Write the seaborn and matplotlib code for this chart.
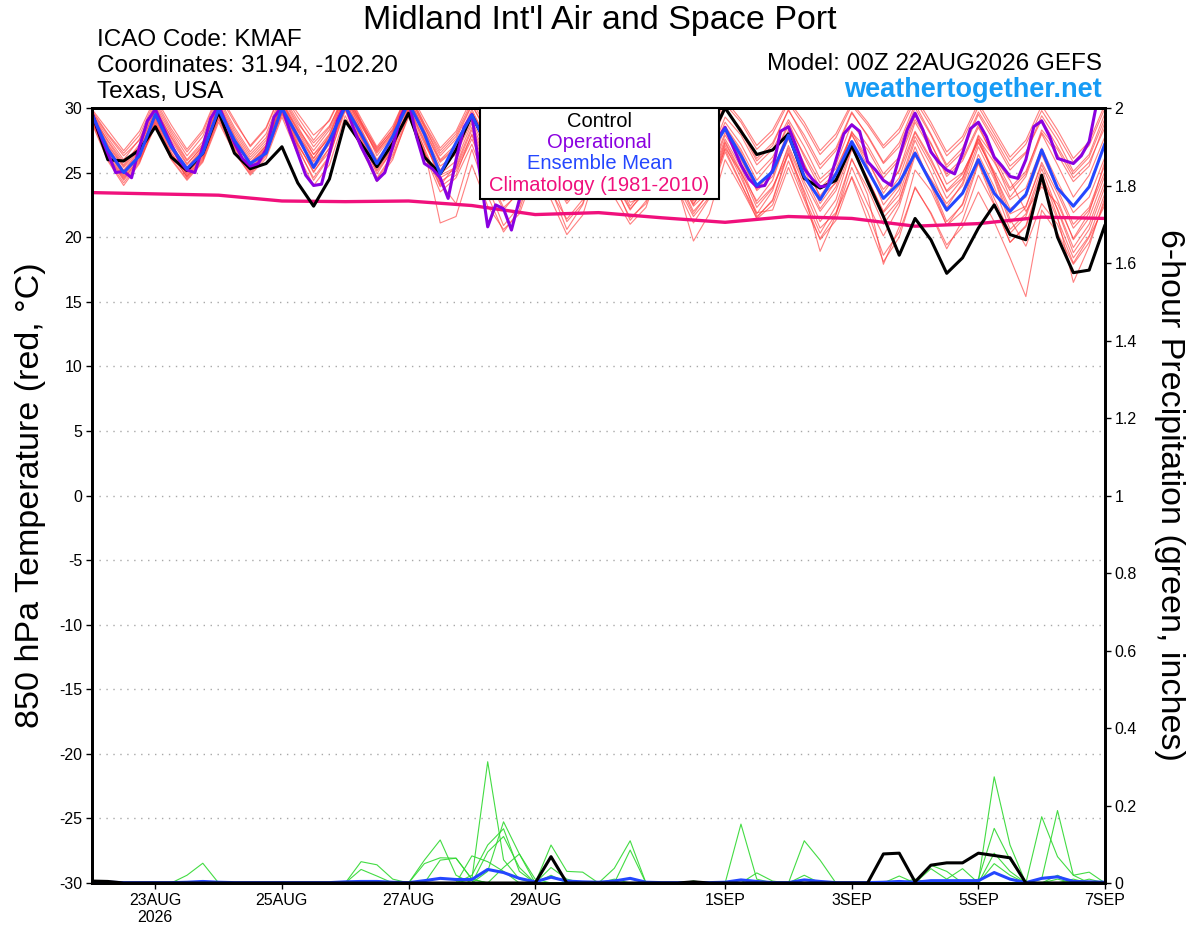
import numpy as np
import pandas as pd
import matplotlib
matplotlib.use("Agg")
import matplotlib.pyplot as plt
import seaborn as sns
from matplotlib.patches import Rectangle

# ---------------- DATA ----------------
# 6-hourly forecast steps starting 00Z 22AUG2026 (day 0) through 00Z 7SEP2026 (day 16)
step_days = np.arange(65) * 0.25
oper_days = np.arange(129) * 0.125   # operational run is 3-hourly
clim_days = np.arange(17) * 1.0

tick_days = [1, 3, 5, 7, 10, 12, 14, 16]
tick_labels = ["23AUG\n2026", "25AUG", "27AUG", "29AUG", "1SEP", "3SEP", "5SEP", "7SEP"]
temp_ticks = [30, 25, 20, 15, 10, 5, 0, -5, -10, -15, -20, -25, -30]
temp_tick_labels = ["30", "25", "20", "15", "10", "5", "0", "-5", "-10", "-15", "-20", "-25", "-30"]
precip_ticks = [0, 0.2, 0.4, 0.6, 0.8, 1.0, 1.2, 1.4, 1.6, 1.8, 2.0]
precip_tick_labels = ["0", "0.2", "0.4", "0.6", "0.8", "1", "1.2", "1.4", "1.6", "1.8", "2"]

control_t = [29.6,
    26.0, 25.9, 26.75, 28.55, 26.2, 25.15, 26.5, 29.7, 26.5, 25.3, 25.7, 27.0,
    24.2, 22.4, 24.5, 29.0, 27.25, 25.45, 27.25, 29.6, 26.2, 24.9, 26.75, 29.45,
    27.0, 25.5, 26.5, 28.5, 27.0, 25.0, 26.0, 28.5, 27.0, 25.0, 26.5, 28.5,
    27.0, 25.5, 27.5, 30.0, 28.2, 26.4, 26.75, 28.0, 24.55, 23.8, 24.4, 27.1,
    24.3, 21.6, 18.6, 21.45, 19.8, 17.2, 18.4, 20.7, 22.5, 20.2, 19.8, 24.8,
    20.0, 17.25, 17.45, 20.95]

mean_t = [29.5,
    26.8, 25.0, 26.3, 29.5, 27.0, 25.3, 26.5, 29.9, 27.5, 25.7, 26.5, 30.0,
    27.8, 25.4, 27.5, 30.1, 28.0, 25.7, 27.8, 30.4, 28.0, 24.9, 27.3, 29.45,
    27.0, 25.0, 26.0, 28.0, 26.5, 24.5, 25.5, 27.8, 26.3, 24.5, 25.5, 27.5,
    26.0, 24.8, 26.5, 28.4, 26.3, 24.0, 25.07, 27.9, 24.7, 22.9, 24.9, 27.4,
    25.2, 23.0, 24.2, 26.5, 24.2, 22.1, 23.4, 26.0, 23.4, 22.0, 23.3, 26.75,
    23.8, 22.4, 23.9, 27.25]

oper_t = [29.6,
    28.0, 26.5, 25.0, 25.1, 24.6, 27.0, 29.0, 29.9,
    28.5, 27.2, 26.0, 25.2, 25.0, 27.0, 29.2, 30.2,
    28.7, 27.3, 26.1, 25.5, 25.7, 26.8, 29.3, 30.1,
    28.2, 26.5, 24.8, 24.0, 24.1, 26.5, 29.0, 30.3,
    28.5, 27.0, 25.8, 24.4, 25.0, 27.0, 29.3, 30.6,
    27.8, 25.7, 25.3, 24.6, 23.0, 26.0, 28.5, 29.5,
    25.0, 20.8, 22.5, 22.2, 20.55, 22.9, 25.5, 27.5,
    27.0, 25.8, 25.0, 24.5, 25.0, 26.5, 28.0, 28.5,
    27.5, 26.0, 25.0, 24.5, 24.8, 26.0, 27.5, 28.5,
    27.5, 26.0, 25.0, 24.7, 25.0, 26.5, 27.6, 28.5,
    27.0, 25.6, 24.5, 23.9, 24.0, 25.2, 28.2, 28.55,
    27.0, 25.3, 24.5, 23.9, 24.0, 26.0, 28.0, 28.7,
    28.2, 25.85, 25.2, 24.4, 24.0, 26.2, 28.3, 29.6,
    28.3, 26.6, 25.8, 25.2, 24.9, 26.5, 28.4, 28.9,
    27.8, 26.2, 25.5, 24.7, 24.55, 26.0, 28.55, 29.0,
    27.8, 26.1, 25.9, 25.7, 26.3, 27.4, 30.5, 31.5]

clim_t = [23.45, 23.35, 23.25, 22.8, 22.75, 22.8, 22.45, 21.75, 21.9,
          21.5, 21.15, 21.6, 21.45, 20.85, 21.05, 21.55, 21.45]

m01 = [29.3, 27.5, 25.8, 27.0, 29.8, 27.8, 25.9, 27.2, 30.4, 28.1, 26.2, 27.5, 30.8, 28.6, 26.4, 28.0, 31.2,
       28.9, 26.3, 27.9, 30.9, 28.2, 25.8, 26.9, 29.6, 27.2, 24.8, 25.7, 28.4, 26.8, 24.3, 25.2, 27.9,
       26.1, 23.9, 25.0, 27.6, 26.3, 24.8, 26.2, 29.3, 27.9, 25.6, 26.8, 29.1, 27.0, 24.5, 25.6, 28.8,
       27.1, 24.9, 26.2, 29.4, 27.3, 24.7, 25.9, 28.5, 26.2, 23.8, 25.1, 28.1, 26.4, 24.3, 25.5, 28.9]
m02 = [29.0, 26.3, 24.5, 26.1, 29.1, 26.9, 24.8, 26.4, 29.7, 27.2, 25.1, 26.6, 30.1, 27.3, 25.0, 26.9, 30.3,
       27.6, 24.9, 26.8, 29.8, 26.4, 23.5, 24.6, 27.2, 23.9, 20.9, 22.4, 26.5, 24.8, 22.6, 24.1, 27.2,
       25.6, 23.4, 24.8, 27.5, 25.5, 22.6, 24.0, 27.4, 25.1, 22.3, 23.8, 26.9, 24.0, 21.2, 22.9, 26.8,
       24.5, 22.0, 23.7, 27.5, 25.0, 22.3, 24.2, 27.8, 24.9, 21.8, 22.4, 25.6, 22.9, 19.8, 21.5, 24.8]
m03 = [29.8, 28.0, 26.5, 27.9, 30.6, 28.4, 26.6, 28.1, 31.0, 28.9, 27.1, 28.5, 31.4, 29.6, 27.9, 29.0, 31.5,
       29.2, 27.0, 28.6, 31.3, 28.8, 26.7, 28.0, 30.5, 28.4, 26.2, 27.5, 30.0, 28.1, 25.9, 27.2, 29.8,
       27.9, 25.7, 27.0, 29.6, 27.8, 25.9, 27.6, 30.3, 28.9, 26.8, 28.0, 30.4, 28.6, 26.4, 27.7, 30.2,
       28.7, 26.9, 28.1, 30.6, 28.6, 26.3, 27.5, 30.1, 28.0, 25.9, 27.2, 29.8, 27.9, 25.8, 27.1, 30.0]
m04 = [29.5, 26.8, 24.9, 26.4, 29.2, 26.6, 24.6, 26.0, 29.4, 27.0, 25.3, 26.7, 29.9, 27.6, 25.8, 27.4, 30.6,
       28.1, 25.5, 27.3, 30.2, 27.5, 24.6, 25.3, 27.9, 24.6, 22.1, 23.6, 27.0, 25.4, 23.3, 23.9, 26.4,
       24.2, 21.3, 22.8, 26.2, 24.7, 22.5, 24.9, 28.1, 26.2, 23.6, 24.7, 27.8, 25.2, 22.6, 24.3, 28.2,
       26.0, 23.4, 25.2, 28.9, 26.8, 24.1, 25.0, 27.4, 24.9, 22.2, 23.1, 26.4, 23.7, 21.0, 22.3, 25.6]
m05 = [29.4, 27.1, 25.4, 26.8, 29.6, 27.3, 25.1, 26.5, 29.8, 27.6, 25.5, 26.9, 30.4, 28.0, 25.9, 27.5, 30.8,
       28.3, 25.8, 27.4, 30.5, 27.9, 25.2, 26.6, 29.3, 26.9, 24.6, 25.8, 28.7, 26.2, 23.6, 24.7, 27.4,
       25.3, 23.1, 24.5, 27.1, 24.9, 22.4, 23.6, 26.8, 24.2, 21.4, 22.5, 25.9, 22.9, 19.8, 21.3, 24.7,
       22.0, 18.6, 20.4, 23.8, 21.9, 19.4, 20.8, 23.5, 21.2, 18.4, 15.4, 22.1, 20.3, 17.9, 19.6, 22.8]
m06 = [28.9, 26.0, 24.2, 25.8, 28.6, 26.1, 24.5, 25.9, 29.1, 26.6, 24.8, 26.1, 29.3, 26.4, 24.0, 25.6, 29.4,
       26.9, 24.3, 26.0, 29.5, 26.6, 23.9, 24.8, 28.0, 25.3, 22.8, 23.7, 27.6, 24.4, 21.2, 22.6, 26.9,
       24.9, 22.7, 23.2, 26.5, 23.9, 19.7, 21.8, 26.0, 23.8, 21.5, 22.9, 26.7, 23.4, 18.9, 21.7, 25.4,
       22.6, 20.1, 22.4, 26.3, 24.5, 22.6, 24.0, 27.3, 25.1, 22.9, 23.8, 26.9, 24.3, 21.9, 23.1, 26.2]
m07 = [29.7, 27.9, 26.3, 27.5, 30.2, 28.0, 26.0, 27.4, 30.6, 28.3, 26.4, 27.7, 30.9, 28.8, 27.3, 28.6, 31.0,
       28.6, 26.6, 28.2, 31.1, 28.5, 26.3, 27.6, 30.2, 28.0, 25.7, 26.8, 29.5, 27.6, 25.4, 26.7, 29.3,
       27.4, 25.3, 26.6, 29.1, 27.2, 25.0, 26.9, 29.9, 28.4, 26.1, 27.3, 29.8, 27.9, 25.6, 26.9, 29.7,
       27.8, 25.7, 27.0, 30.0, 27.9, 25.4, 26.6, 29.5, 27.4, 25.2, 26.5, 29.4, 27.5, 25.1, 26.4, 29.6]
m08 = [29.2, 26.6, 24.7, 26.2, 29.0, 26.5, 24.9, 26.3, 29.6, 27.4, 25.6, 27.0, 30.3, 27.9, 26.1, 27.8, 30.9,
       28.4, 26.0, 27.6, 30.6, 27.7, 24.2, 22.6, 26.8, 23.2, 20.4, 22.1, 25.9, 23.7, 20.6, 22.5, 26.1,
       24.3, 22.1, 23.8, 26.8, 24.6, 22.0, 23.4, 27.1, 24.6, 21.9, 22.1, 25.4, 22.4, 19.9, 21.8, 26.1,
       23.3, 17.9, 20.8, 25.2, 23.6, 20.9, 22.6, 26.4, 23.9, 20.6, 21.8, 25.3, 22.1, 18.8, 20.6, 23.9]
m09 = [29.6, 27.4, 25.6, 27.2, 30.1, 27.7, 25.7, 27.0, 30.3, 27.8, 25.8, 27.1, 30.5, 28.2, 26.1, 27.9, 30.9,
       28.7, 26.5, 28.0, 31.0, 28.6, 26.0, 27.2, 29.9, 27.4, 25.1, 26.3, 29.0, 27.0, 24.8, 26.0, 28.6,
       26.6, 24.4, 25.6, 28.3, 26.5, 24.3, 26.0, 28.9, 27.2, 24.9, 26.2, 28.6, 26.4, 24.2, 25.3, 27.9,
       25.9, 23.7, 25.1, 28.2, 26.1, 23.5, 24.6, 27.6, 25.8, 23.6, 24.9, 28.3, 26.8, 24.6, 25.8, 28.5]
m10 = [29.1, 26.2, 24.4, 25.9, 28.8, 26.3, 24.7, 26.2, 29.2, 26.8, 25.0, 26.4, 29.6, 27.1, 25.3, 26.9, 29.9,
       27.3, 24.6, 26.4, 29.6, 26.9, 24.0, 25.6, 28.5, 25.8, 23.2, 24.5, 27.8, 25.6, 23.1, 24.3, 27.6,
       25.4, 23.0, 24.2, 27.3, 25.1, 23.2, 24.6, 27.9, 26.0, 23.7, 25.1, 28.3, 25.7, 23.1, 24.2, 27.3,
       24.4, 21.5, 22.9, 26.6, 24.2, 21.2, 22.5, 25.8, 23.0, 20.3, 21.6, 24.9, 21.6, 16.5, 19.3, 23.1]
m11 = [29.9, 28.3, 26.7, 28.2, 30.8, 28.7, 26.8, 28.3, 31.2, 29.1, 27.0, 28.4, 31.3, 29.3, 27.5, 29.1, 31.6,
       29.0, 26.8, 28.4, 31.4, 29.1, 26.9, 28.2, 30.8, 28.7, 26.5, 27.9, 30.3, 28.4, 26.2, 27.5, 30.1,
       28.2, 26.0, 27.3, 29.9, 28.0, 26.2, 27.9, 30.6, 29.1, 27.1, 28.3, 30.6, 28.9, 26.7, 28.0, 30.4,
       28.9, 27.1, 28.4, 30.9, 28.9, 26.6, 27.8, 30.4, 28.3, 26.2, 27.5, 30.2, 28.3, 26.1, 27.4, 30.3]
m12 = [29.3, 26.9, 25.2, 26.7, 29.4, 27.0, 25.3, 26.8, 29.9, 27.5, 25.5, 26.8, 30.0, 27.0, 24.4, 26.2, 30.1,
       27.4, 25.1, 26.7, 30.0, 27.2, 24.9, 25.9, 28.8, 26.0, 23.6, 24.9, 28.2, 25.9, 23.4, 24.0, 26.8,
       24.5, 22.2, 23.5, 26.7, 24.0, 21.6, 23.1, 26.9, 25.0, 22.8, 24.4, 28.0, 25.6, 23.2, 24.8, 28.0,
       25.5, 22.5, 24.0, 27.8, 25.6, 23.0, 24.5, 27.9, 26.2, 24.4, 22.0, 23.9, 22.6, 19.9, 21.9, 25.9]
m13 = [28.8, 25.9, 24.0, 25.7, 28.9, 26.4, 24.7, 26.1, 29.4, 26.9, 25.2, 26.5, 29.7, 27.2, 25.1, 26.6, 30.2,
       27.7, 25.4, 26.9, 29.9, 26.8, 21.1, 21.6, 25.6, 22.4, 20.6, 21.8, 25.2, 22.9, 20.2, 21.7, 25.6,
       23.1, 21.0, 22.3, 25.9, 23.7, 21.1, 23.0, 26.6, 24.1, 21.8, 23.6, 27.1, 24.3, 22.0, 23.6, 26.9,
       24.6, 21.9, 23.3, 27.0, 24.0, 20.9, 22.0, 25.7, 22.6, 19.6, 20.9, 24.6, 22.2, 19.2, 21.0, 24.3]
m14 = [29.5, 27.2, 25.5, 27.0, 29.9, 27.5, 25.6, 27.1, 30.2, 27.9, 26.0, 27.3, 30.6, 28.4, 26.7, 28.3, 31.1,
       28.8, 26.7, 28.1, 30.8, 28.3, 25.9, 27.0, 29.7, 27.5, 25.3, 26.5, 29.2, 27.3, 25.0, 26.3, 28.9,
       26.9, 24.9, 26.2, 28.8, 26.9, 24.5, 25.8, 28.6, 26.8, 24.4, 25.9, 28.9, 26.2, 23.8, 25.0, 28.1,
       26.8, 24.6, 26.0, 29.1, 27.2, 24.9, 26.1, 28.7, 26.0, 23.1, 24.7, 28.0, 25.6, 23.1, 24.8, 27.8]
m15 = [29.0, 26.4, 24.6, 26.0, 28.7, 26.0, 24.4, 25.8, 28.9, 26.5, 24.9, 26.3, 29.5, 26.8, 24.6, 26.3, 29.8,
       27.0, 24.5, 26.2, 29.3, 26.6, 24.3, 25.1, 27.6, 24.9, 22.3, 23.4, 26.2, 23.5, 21.4, 22.9, 25.8,
       23.9, 21.5, 22.6, 25.9, 24.2, 22.8, 24.3, 27.6, 25.4, 22.6, 23.9, 26.4, 23.6, 20.7, 21.9, 24.6,
       21.3, 18.1, 20.0, 23.9, 21.8, 19.1, 21.3, 24.8, 22.5, 19.6, 20.8, 24.2, 21.4, 18.4, 20.1, 23.4]
m16 = [29.4, 27.0, 25.1, 26.6, 29.5, 27.2, 25.4, 26.9, 30.0, 27.6, 25.7, 27.1, 30.4, 28.3, 26.4, 27.6, 30.5,
       28.1, 25.9, 27.5, 30.7, 28.0, 25.5, 26.4, 29.0, 26.5, 24.2, 25.3, 28.0, 26.4, 24.0, 25.1, 27.9,
       26.0, 23.8, 24.9, 27.8, 25.9, 23.7, 25.3, 28.5, 26.6, 23.9, 25.0, 27.6, 24.8, 22.2, 23.9, 27.3,
       25.3, 23.0, 24.6, 28.1, 25.9, 23.6, 24.9, 27.6, 24.7, 21.4, 19.3, 22.6, 21.0, 18.0, 20.0, 22.5]
m17 = [29.6, 27.7, 26.0, 27.6, 30.4, 28.2, 26.3, 27.8, 30.8, 28.5, 26.6, 28.0, 31.1, 29.0, 27.0, 28.5, 31.3,
       28.9, 26.9, 28.3, 31.2, 28.7, 26.5, 27.8, 30.3, 28.0, 25.8, 27.0, 29.7, 27.8, 25.6, 26.9, 29.5,
       27.5, 25.4, 26.8, 29.4, 27.6, 25.6, 27.2, 30.0, 28.2, 25.9, 27.1, 29.9, 27.6, 25.3, 26.7, 29.6,
       27.9, 25.8, 27.3, 30.3, 28.0, 25.6, 26.9, 29.7, 27.7, 25.5, 26.6, 29.1, 27.0, 24.9, 26.2, 29.2]
m18 = [29.2, 26.7, 24.8, 26.3, 29.3, 26.8, 25.0, 26.6, 29.5, 27.1, 25.2, 26.5, 29.8, 27.5, 25.6, 27.2, 30.4,
       27.8, 25.2, 26.9, 30.1, 27.4, 24.8, 25.4, 28.3, 25.5, 22.9, 24.2, 27.4, 25.1, 22.8, 24.0, 27.0,
       24.8, 22.4, 23.9, 27.0, 24.4, 21.8, 23.5, 27.3, 24.9, 21.6, 22.8, 26.5, 23.1, 20.3, 22.4, 26.0,
       23.8, 21.0, 22.7, 26.6, 24.4, 22.0, 23.5, 27.0, 24.5, 21.1, 22.3, 25.8, 23.4, 20.7, 22.1, 25.1]

control_p = [0.005,
    0.004, 0, 0, 0, 0, 0, 0, 0, 0, 0, 0, 0, 0, 0, 0, 0,
    0, 0, 0, 0, 0, 0, 0, 0, 0, 0, 0, 0, 0.068, 0, 0, 0,
    0, 0, 0, 0, 0, 0.003, 0, 0, 0, 0, 0, 0, 0, 0, 0, 0,
    0, 0.075, 0.077, 0.003, 0.046, 0.052, 0.052, 0.077, 0.071, 0.065, 0, 0, 0, 0, 0, 0]
mean_p = [0.002,
    0.002, 0.001, 0.001, 0.001, 0.001, 0.002, 0.004, 0.002, 0.001, 0.001, 0.001, 0.001,
    0.001, 0.001, 0.001, 0.003, 0.004, 0.004, 0.002, 0.001, 0.006, 0.012, 0.009, 0.009,
    0.035, 0.027, 0.012, 0.003, 0.015, 0.005, 0.003, 0.002, 0.005, 0.012, 0.002, 0.001,
    0.001, 0.001, 0.001, 0.002, 0.008, 0.004, 0.001, 0.001, 0.008, 0.004, 0.001, 0.001,
    0.001, 0.002, 0.004, 0.002, 0.006, 0.006, 0.006, 0.006, 0.027, 0.010, 0.001, 0.012,
    0.016, 0.004, 0.003, 0.002]

# ensemble member precipitation: non-zero 6-h totals keyed by step index
g01 = {24: 0.01, 25: 0.313, 26: 0.06, 27: 0.01, 56: 0.005, 57: 0.274, 58: 0.098}
g02 = {21: 0.059, 22: 0.111, 23: 0.02, 25: 0.03, 26: 0.158, 27: 0.075, 60: 0.171, 61: 0.068, 62: 0.02}
g03 = {24: 0.02, 25: 0.098, 26: 0.14, 27: 0.03, 41: 0.152, 42: 0.01, 60: 0.01, 61: 0.187, 62: 0.02, 63: 0.028}
g04 = {29: 0.098, 30: 0.03, 31: 0.028, 33: 0.038, 34: 0.109, 56: 0.01, 57: 0.141, 58: 0.06}
g05 = {17: 0.055, 18: 0.047, 19: 0.01, 45: 0.109, 46: 0.059, 53: 0.046, 54: 0.03}
g06 = {6: 0.02, 7: 0.051, 22: 0.059, 23: 0.064, 24: 0.01, 34: 0.085, 42: 0.026, 43: 0.005}
g07 = {17: 0.035, 18: 0.018, 24: 0.07, 25: 0.055, 26: 0.03, 53: 0.037, 54: 0.01, 55: 0.037, 57: 0.077, 58: 0.03}
g08 = {21: 0.05, 22: 0.065, 23: 0.064, 24: 0.01, 26: 0.04, 27: 0.075, 28: 0.01, 45: 0.02, 51: 0.018, 61: 0.02}
g09 = {25: 0.08, 26: 0.12, 27: 0.04, 29: 0.02, 52: 0.01, 57: 0.05, 58: 0.02, 62: 0.01}
g10 = {29: 0.04, 30: 0.01, 33: 0.01, 38: 0.005, 61: 0.01, 63: 0.01}

temp_members = {f"m{k:02d}": v for k, v in enumerate(
    [m01, m02, m03, m04, m05, m06, m07, m08, m09, m10, m11, m12, m13, m14, m15, m16, m17, m18], 1)}
precip_members = {f"g{k:02d}": v for k, v in enumerate([g01, g02, g03, g04, g05, g06, g07, g08, g09, g10], 1)}

for name, vals in temp_members.items():
    assert len(vals) == 65, (name, len(vals))
assert len(control_t) == 65 and len(mean_t) == 65 and len(oper_t) == 129
assert len(control_p) == 65 and len(mean_p) == 65

# ---------------- STYLE ----------------
sns.set_theme(style="ticks")
plt.rcParams['font.family'] = ['Liberation Sans', 'DejaVu Sans']
plt.rcParams['text.color'] = 'black'
plt.rcParams['axes.edgecolor'] = 'black'
plt.rcParams['xtick.color'] = 'black'
plt.rcParams['ytick.color'] = 'black'

RED = '#ff3c3c'
GREEN = '#2fd82f'
BLACK = '#000000'
PURPLE = '#8a00e0'
BLUE = '#2447ff'
CLIM = '#f0107c'

W, H = 1200, 927
fig = plt.figure(figsize=(W / 100, H / 100), dpi=100)
ax = fig.add_axes([92 / W, (H - 883) / H, 1013 / W, 775 / H])
ax2 = ax.twinx()

# temperature ensemble members
rows = [(name, d, v) for name, vals in temp_members.items() for d, v in zip(step_days, vals)]
df_t = pd.DataFrame(rows, columns=["member", "day", "temp"])
sns.lineplot(data=df_t, x="day", y="temp", units="member", estimator=None,
             color=RED, alpha=0.65, lw=0.8, ax=ax, legend=False)

sns.lineplot(x=clim_days, y=clim_t, color=CLIM, lw=2.4, ax=ax)
sns.lineplot(x=step_days, y=control_t, color=BLACK, lw=2.2, ax=ax)
sns.lineplot(x=oper_days, y=oper_t, color=PURPLE, lw=2.2, ax=ax)
sns.lineplot(x=step_days, y=mean_t, color=BLUE, lw=2.2, ax=ax)

# precipitation ensemble members
prow = []
for name, d in precip_members.items():
    vals = np.zeros(65)
    for k, v in d.items():
        vals[k] = v
    prow += [(name, dd, vv) for dd, vv in zip(step_days, vals)]
df_p = pd.DataFrame(prow, columns=["member", "day", "precip"])
sns.lineplot(data=df_p, x="day", y="precip", units="member", estimator=None,
             color=GREEN, alpha=0.9, lw=0.8, ax=ax2, legend=False)
sns.lineplot(x=step_days, y=mean_p, color=BLUE, lw=2.2, ax=ax2)
sns.lineplot(x=step_days, y=control_p, color=BLACK, lw=2.2, ax=ax2)

# axes
ax.set_xlim(0, 16)
ax.set_ylim(-30, 30)
ax2.set_ylim(0, 2)
ax.set_xticks(tick_days)
ax.set_xticklabels(tick_labels)
ax.set_yticks(temp_ticks)
ax.set_yticklabels(temp_tick_labels)
ax2.set_yticks(precip_ticks)
ax2.set_yticklabels(precip_tick_labels)
for a in (ax, ax2):
    a.set_xlabel("")
    a.set_ylabel("")
    for s in a.spines.values():
        s.set_visible(True)
        s.set_linewidth(2.0)
        s.set_color('black')
ax.tick_params(axis='both', direction='out', length=4, width=1, labelsize=11.5, pad=3)
ax2.tick_params(axis='y', direction='out', length=4, width=1, labelsize=11.5, pad=3)
ax.yaxis.grid(True, linestyle=(0, (1, 4)), color='#a8a8a8', lw=1.0)
ax.xaxis.grid(False)
ax2.grid(False)

# legend box
lx0 = (480 - 92) / 1013
lx1 = (719 - 92) / 1013
ly0 = (883 - 199) / 775
ax2.add_patch(Rectangle((lx0, ly0), lx1 - lx0, 1 - ly0, transform=ax2.transAxes,
                        facecolor='white', edgecolor='black', lw=1.5, zorder=10, clip_on=False))
lcx = (lx0 + lx1) / 2
for ypix, txt, col in [(121, "Control", BLACK), (142, "Operational", PURPLE),
                       (163, "Ensemble Mean", BLUE), (185, "Climatology (1981-2010)", CLIM)]:
    ax2.text(lcx, (883 - ypix) / 775, txt, color=col, fontsize=14.5, ha='center', va='center',
             transform=ax2.transAxes, zorder=11)

# header texts
fig.text(600 / W, 1 - 21 / H, "Midland Int'l Air and Space Port", ha='center', va='center', fontsize=24.5)
fig.text(97 / W, 1 - 40 / H, "ICAO Code: KMAF", ha='left', va='center', fontsize=17.5)
fig.text(97 / W, 1 - 66 / H, "Coordinates: 31.94, -102.20", ha='left', va='center', fontsize=17.5)
fig.text(97 / W, 1 - 92 / H, "Texas, USA", ha='left', va='center', fontsize=17.5)
fig.text(1102 / W, 1 - 64 / H, "Model: 00Z 22AUG2026 GEFS", ha='right', va='center', fontsize=17.5)
fig.text(1102 / W, 1 - 90 / H, "weathertogether.net", ha='right', va='center', fontsize=19.5,
         fontweight='bold', color='#169bf5')

fig.text(31 / W, 1 - 495 / H, "850 hPa Temperature (red, °C)", rotation=90, ha='center', va='center',
         fontsize=24.5)
fig.text(1170 / W, 1 - 495 / H, "6-hour Precipitation (green, inches)", rotation=270, ha='center',
         va='center', fontsize=24.5)

fig.savefig("out.png", dpi=100)
